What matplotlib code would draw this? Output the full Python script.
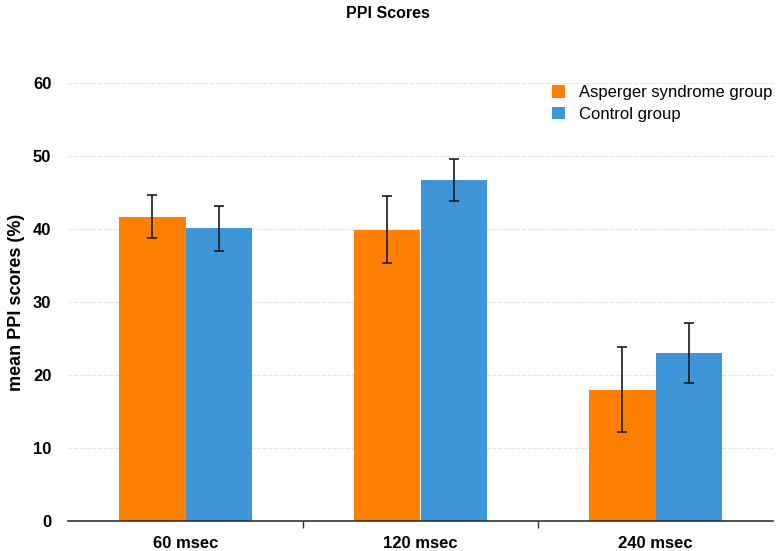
import numpy as np
import matplotlib.pyplot as plt
from matplotlib import font_manager

categories = ['60 msec', '120 msec', '240 msec']
asperger_mean = [41.7, 39.9, 18.0]
asperger_err = [2.9, 4.6, 5.8]
control_mean = [40.1, 46.7, 23.0]
control_err = [3.1, 2.9, 4.1]
yticks = [0, 10, 20, 30, 40, 50, 60]

plt.rcParams['font.family'] = ['Liberation Sans', 'DejaVu Sans']
names = {f.name for f in font_manager.fontManager.ttflist}
narrow = 'Liberation Sans Narrow' in names

fig = plt.figure(figsize=(7.76, 5.51), dpi=100)
ax = fig.add_axes([68/776, 1 - 521/551, 705/776, 438/551])

x = np.arange(len(categories))
w = 0.285
ax.bar(x - w/2, asperger_mean, w, color='#FF7F00', label='Asperger syndrome group', zorder=2)
ax.bar(x + w/2, control_mean, w, color='#3E95D8', label='Control group', zorder=2)
ax.errorbar(x - w/2, asperger_mean, yerr=asperger_err, fmt='none', ecolor='#1a1a1a',
            elinewidth=1.2, capsize=3.6, capthick=1.2, zorder=3)
ax.errorbar(x + w/2, control_mean, yerr=control_err, fmt='none', ecolor='#1a1a1a',
            elinewidth=1.2, capsize=3.6, capthick=1.2, zorder=3)

ax.set_xlim(-0.5, 2.5)
ax.set_ylim(0, 60)
ax.set_yticks(yticks)
ax.set_yticklabels([str(t) for t in yticks], fontsize=12, fontweight='bold')
ax.tick_params(axis='y', length=0, pad=12)
ax.yaxis.grid(True, color='#e4e4e4', linestyle='--', linewidth=0.8, zorder=0)

ax.set_xticks(x)
ax.set_xticklabels(categories, fontsize=12, fontweight='bold')
ax.tick_params(axis='x', length=0, pad=11)
ax.set_xticks([0.5, 1.5], minor=True)
ax.tick_params(axis='x', which='minor', length=5, width=1, color='#333333')

for s in ['left', 'top', 'right']:
    ax.spines[s].set_visible(False)
ax.spines['bottom'].set_color('#333333')
ax.spines['bottom'].set_linewidth(1.2)

ax.set_ylabel('mean PPI scores (%)', fontsize=13, fontweight='bold', labelpad=6)
if narrow:
    fig.suptitle('PPI Scores', fontsize=14, fontweight='bold', y=1 - 13/551, va='center',
                 family=['Liberation Sans Narrow', 'Liberation Sans'])
else:
    fig.suptitle('PPI Scores', fontsize=11.5, fontweight='bold', y=1 - 13/551, va='center')

ax.legend(loc='upper right', bbox_to_anchor=(1.02, 1.03), frameon=False, fontsize=12,
          handlelength=0.8, handleheight=0.8, handletextpad=0.8, labelspacing=0.4)

fig.savefig('out.png', dpi=100)
